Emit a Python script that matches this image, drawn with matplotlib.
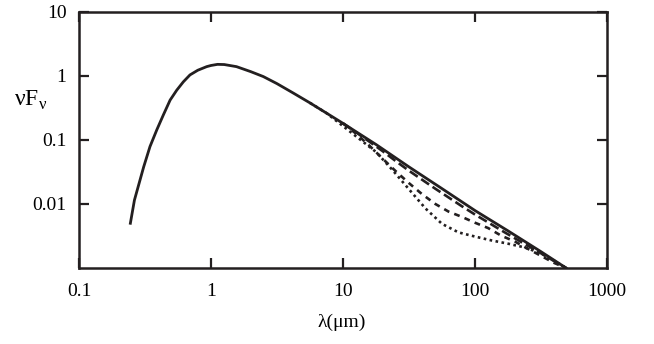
import matplotlib
matplotlib.use("Agg")
import matplotlib.pyplot as plt
import numpy as np

plt.rcParams['font.family'] = ['Liberation Serif', 'DejaVu Serif']
plt.rcParams['mathtext.fontset'] = 'custom'
plt.rcParams['mathtext.rm'] = 'Liberation Serif'

# main SED curve (solid)
wlSolid = [0.245, 0.263, 0.309, 0.345, 0.389, 0.435, 0.490, 0.55, 0.617, 0.693, 0.794,
           0.927, 1.0, 1.12, 1.26, 1.56, 2.0, 2.49, 3.16, 4.21, 5.62, 7.5, 10, 17.8,
           31.6, 56.2, 100, 178, 316, 490]
fluxSolid = [0.0050, 0.0115, 0.038, 0.079, 0.145, 0.245, 0.42, 0.60, 0.81, 1.04, 1.23,
             1.40, 1.46, 1.52, 1.51, 1.40, 1.17, 0.98, 0.76, 0.54, 0.38, 0.263, 0.182,
             0.085, 0.038, 0.0174, 0.0079, 0.0038, 0.0018, 0.0010]

# tail curves that split off the solid one
wlTail = [10, 12.6, 15.8, 20, 25.1, 31.6, 39.8, 50.1, 63.1, 79.4, 100, 126, 158,
          200, 251, 316, 398, 490]
fluxLongDash = [0.182, 0.131, 0.0946, 0.0668, 0.0468, 0.0331, 0.0239, 0.0173, 0.01265,
                0.00925, 0.00684, 0.00515, 0.00388, 0.00292, 0.00223, 0.0017, 0.00128, 0.0010]
fluxDash = [0.182, 0.125, 0.082, 0.051, 0.0325, 0.0212, 0.0142, 0.0100, 0.0076, 0.0063,
            0.0051, 0.0042, 0.0032, 0.0026, 0.0020, 0.00155, 0.0012, 0.0010]

wlDot = [5.62, 7.5, 10, 13.3, 17.8, 23.7, 31.6, 42.2, 56.2, 75, 100, 133, 178, 237,
         316, 398, 490]
fluxDot = [0.38, 0.263, 0.165, 0.104, 0.065, 0.034, 0.017, 0.0085, 0.0049, 0.0036,
           0.0031, 0.0027, 0.0024, 0.0021, 0.0017, 0.0013, 0.0010]

xTicks = [0.1, 1, 10, 100, 1000]
xLabels = ['0.1', '1', '10', '100', '1000']
yTicks = [0.01, 0.1, 1, 10]
yLabels = ['0.01', '0.1', '1', '10']

fig = plt.figure(figsize=(6.54, 3.44), dpi=100)
ax = fig.add_axes([79/654, 1-268/344, 528/654, 256/344])

ink = '#231f20'
ax.plot(wlSolid, fluxSolid, color=ink, lw=2.0)
ax.plot(wlTail, fluxLongDash, color=ink, lw=1.9, dashes=(3.6, 1.6))
ax.plot(wlTail, fluxDash, color=ink, lw=1.9, dashes=(2.2, 2.0))
ax.plot(wlDot, fluxDot, color=ink, lw=1.9, dashes=(1.0, 1.3))

ax.set_xscale('log')
ax.set_yscale('log')
ax.set_xlim(0.1, 1000)
ax.set_ylim(0.001, 10)
ax.minorticks_off()
ax.set_xticks(xTicks)
ax.set_xticklabels(xLabels)
ax.set_yticks(yTicks)
ax.set_yticklabels(yLabels)
ax.tick_params(which='major', direction='in', length=7, width=1.6, color=ink,
               top=True, right=True, labelsize=14, pad=9)
ax.tick_params(axis='x', pad=11)
for s in ax.spines.values():
    s.set_linewidth(1.8)
    s.set_color(ink)

fig.text(31/654, 1-100/344, r'νF$_\mathrm{ν}$', fontsize=17, ha='center', va='center')
fig.text(342/654, 1-322/344, 'λ(μm)', fontsize=14, ha='center', va='center')

fig.savefig('out.png', dpi=100)
